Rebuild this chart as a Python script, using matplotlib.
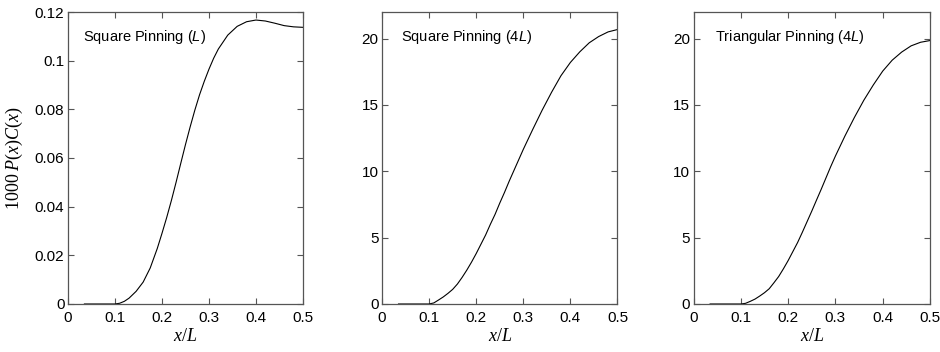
import matplotlib
matplotlib.use("Agg")
import matplotlib.pyplot as plt
from matplotlib.ticker import FuncFormatter

# values, x in units of L
X1 = [0.035, 0.06, 0.08, 0.10, 0.11, 0.12, 0.13, 0.145, 0.16, 0.175, 0.19,
      0.20, 0.21, 0.22, 0.23, 0.24, 0.25, 0.26, 0.27, 0.28, 0.29, 0.30, 0.31,
      0.32, 0.34, 0.36, 0.38, 0.40, 0.42, 0.44, 0.46, 0.48, 0.50]
Y1 = [0.0, 0.0, 0.0, 0.0, 0.0003, 0.0011, 0.0024, 0.0052, 0.0090, 0.0148, 0.0228,
      0.0290, 0.0355, 0.0425, 0.0500, 0.0578, 0.0655, 0.0728, 0.0797, 0.0860,
      0.0915, 0.0965, 0.1010, 0.1048, 0.1105, 0.1141, 0.1160, 0.1167, 0.1163,
      0.1154, 0.1144, 0.1139, 0.1137]

X2 = [0.035, 0.06, 0.08, 0.10, 0.11, 0.12, 0.13, 0.14, 0.15, 0.16, 0.17, 0.18,
      0.19, 0.20, 0.21, 0.22, 0.23, 0.24, 0.25, 0.26, 0.27, 0.28, 0.29, 0.30,
      0.31, 0.32, 0.34, 0.36, 0.38, 0.40, 0.42, 0.44, 0.46, 0.48, 0.50]
Y2 = [0.0, 0.0, 0.0, 0.0, 0.08, 0.30, 0.53, 0.80, 1.10, 1.50, 2.00, 2.55,
      3.15, 3.80, 4.50, 5.20, 6.00, 6.75, 7.60, 8.40, 9.25, 10.05, 10.85, 11.65,
      12.40, 13.15, 14.60, 15.95, 17.20, 18.20, 19.00, 19.68, 20.15, 20.50, 20.68]

X3 = X2
Y3 = [0.0, 0.0, 0.0, 0.0, 0.05, 0.20, 0.37, 0.60, 0.85, 1.15, 1.60, 2.07,
      2.65, 3.27, 3.95, 4.63, 5.40, 6.20, 7.00, 7.83, 8.65, 9.50, 10.35, 11.15,
      11.90, 12.65, 14.05, 15.35, 16.50, 17.55, 18.37, 18.98, 19.45, 19.72, 19.85]

TITLES = ["Square Pinning ($\\mathsf{L}$)",
          "Square Pinning (4$\\mathsf{L}$)",
          "Triangular Pinning (4$\\mathsf{L}$)"]
YLIMS = [(0, 0.12), (0, 22), (0, 22)]
YTICKS = [[0, 0.02, 0.04, 0.06, 0.08, 0.1, 0.12], [0, 5, 10, 15, 20], [0, 5, 10, 15, 20]]
XTICKS = [0, 0.1, 0.2, 0.3, 0.4, 0.5]

plt.rcParams.update({
    "font.family": "Liberation Sans",
    "mathtext.fontset": "custom",
    "mathtext.rm": "Liberation Serif",
    "mathtext.it": "Liberation Serif:italic",
    "mathtext.sf": "Liberation Sans:italic",
    "xtick.direction": "in", "ytick.direction": "in",
    "xtick.top": True, "ytick.right": True,
    "xtick.major.size": 4, "ytick.major.size": 4,
    "xtick.labelsize": 11, "ytick.labelsize": 11,
    "axes.edgecolor": "#555555", "axes.linewidth": 0.9,
})

fig = plt.figure(figsize=(9.4, 3.52), dpi=100)
lefts = [0.0723, 0.4064, 0.7378]
widths = [0.2500, 0.2505, 0.2516]
textx = [0.064, 0.08, 0.091]
data = [(X1, Y1), (X2, Y2), (X3, Y3)]

fmt = FuncFormatter(lambda v, p: f"{v:g}")
for i, (xs, ys) in enumerate(data):
    ax = fig.add_axes([lefts[i], 0.1364, widths[i], 0.8295])
    ax.plot(xs, ys, color="black", lw=0.8)
    ax.set_xlim(0, 0.5)
    ax.set_ylim(*YLIMS[i])
    ax.set_xticks(XTICKS)
    ax.set_yticks(YTICKS[i])
    ax.xaxis.set_major_formatter(fmt)
    ax.yaxis.set_major_formatter(fmt)
    ax.tick_params(colors="#555555", labelcolor="black")
    ax.tick_params(axis="x", pad=5)
    ax.tick_params(axis="y", pad=2.5)
    ax.set_xlabel("$x/L$", fontsize=13, labelpad=2)
    ax.text(textx[i], 0.913, TITLES[i], transform=ax.transAxes,
            fontsize=10.5, va="center", ha="left")
    if i == 0:
        ax.set_ylabel("$1000\\;P(x)C(x)$", fontsize=13, labelpad=7)

fig.savefig("out.png", dpi=100)
